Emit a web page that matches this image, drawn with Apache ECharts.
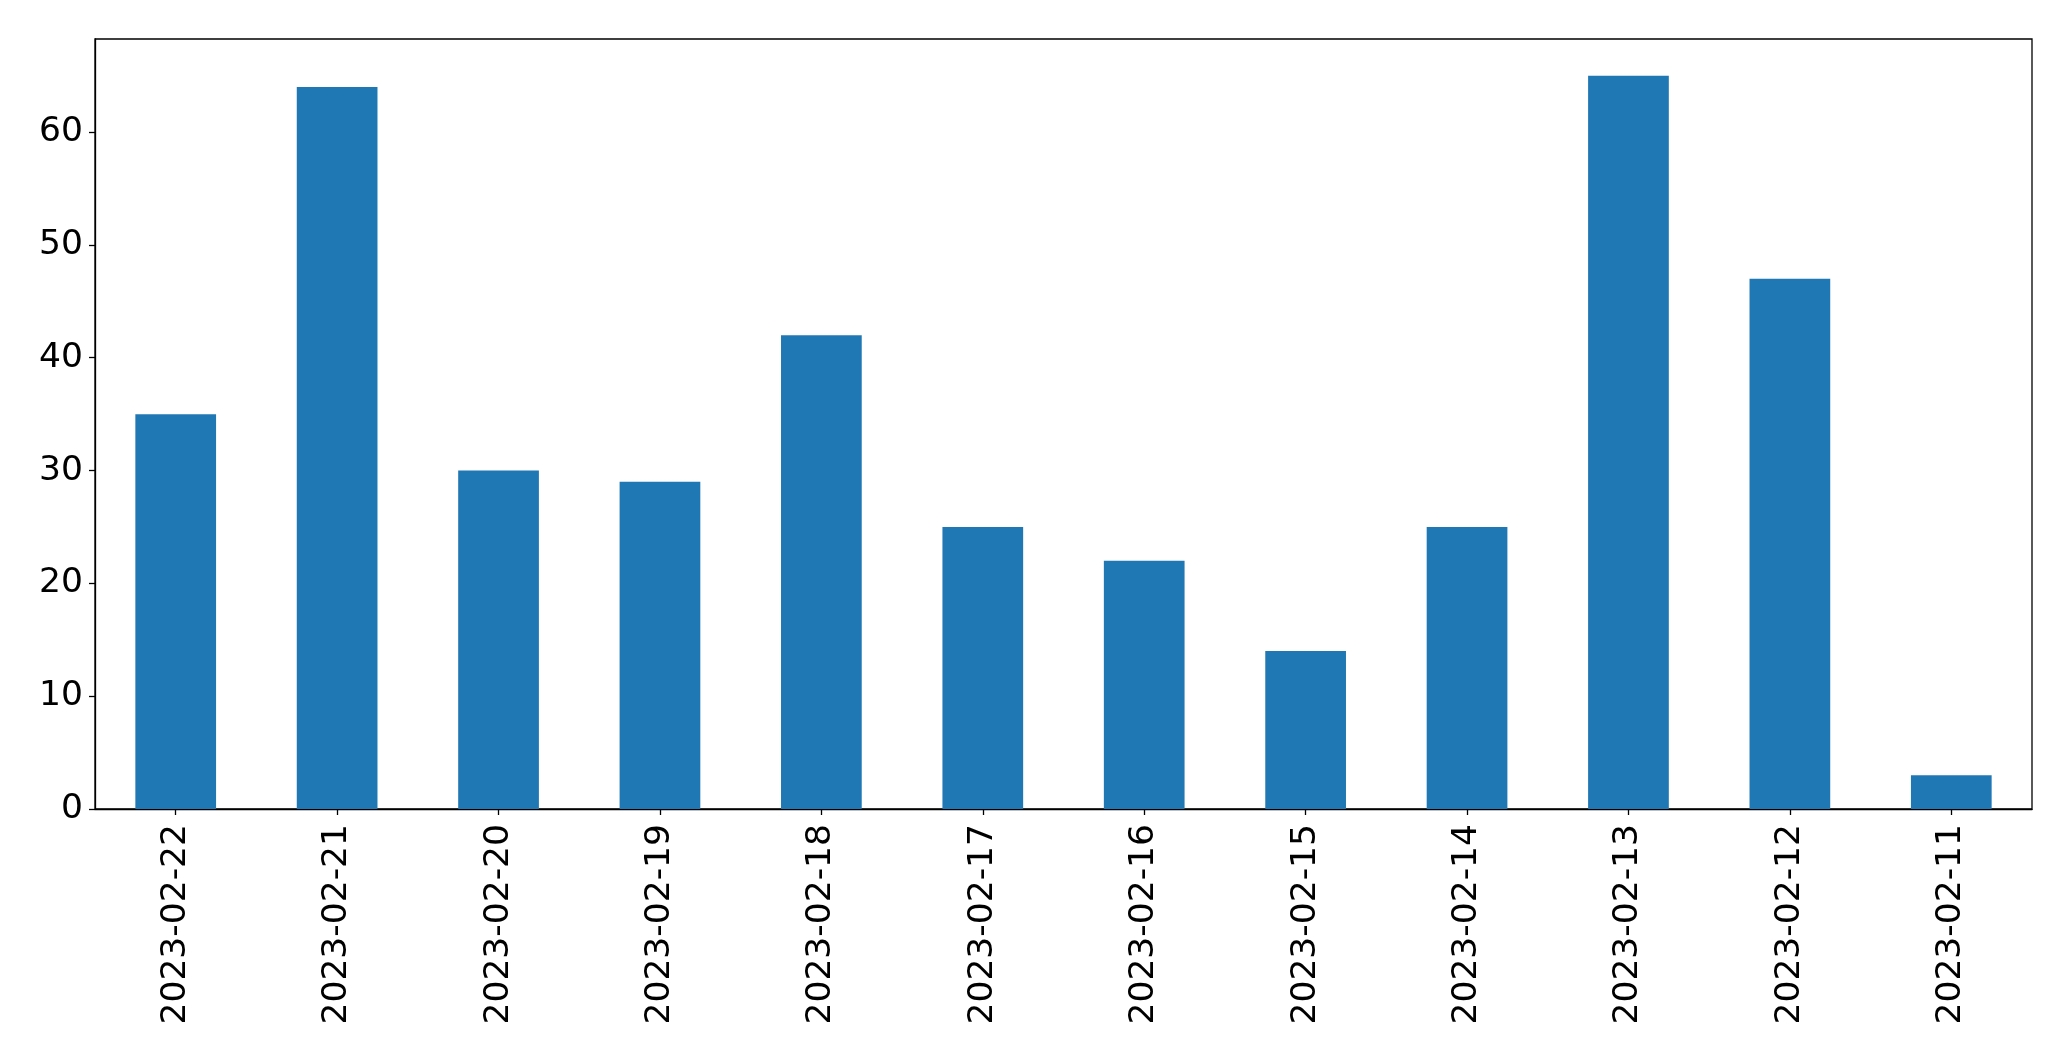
<!DOCTYPE html>
<html><head><meta charset="utf-8">
<script src="https://cdn.jsdelivr.net/npm/echarts@6/dist/echarts.min.js"></script>
<style>html,body{margin:0;padding:0;background:#fff}#c{width:2071px;height:1061px}</style>
</head><body><div id="c"></div>
<script>
const categories = ["2023-02-22","2023-02-21","2023-02-20","2023-02-19","2023-02-18","2023-02-17","2023-02-16","2023-02-15","2023-02-14","2023-02-13","2023-02-12","2023-02-11"];
const values = [35, 64, 30, 29, 42, 25, 22, 14, 25, 65, 47, 3];
const yTicks = [0, 10, 20, 30, 40, 50, 60];
const font = 'DejaVu Sans';
const chart = echarts.init(document.getElementById('c'), null, {renderer: 'canvas'});
chart.setOption({
  animation: false,
  backgroundColor: '#fff',
  grid: {left: 95, right: 39, top: 39, bottom: 252, show: true, borderColor: '#000', borderWidth: 1.3, backgroundColor: 'transparent'},
  xAxis: {
    type: 'category', data: categories,
    axisLine: {show: true, lineStyle: {color: '#000', width: 1.3}},
    axisTick: {show: true, alignWithLabel: true, length: 6, lineStyle: {color: '#000', width: 1.3}},
    axisLabel: {rotate: 90, fontSize: 34.5, fontFamily: font, color: '#000', margin: 15, interval: 0}
  },
  yAxis: {
    type: 'value', min: 0, max: 68.25, interval: 10,
    splitLine: {show: false},
    axisLine: {show: true, lineStyle: {color: '#000', width: 1.3}},
    axisTick: {show: true, length: 6, customValues: yTicks, lineStyle: {color: '#000', width: 1.3}},
    axisLabel: {fontSize: 34.5, fontFamily: font, color: '#000', margin: 12, customValues: yTicks}
  },
  series: [{type: 'bar', data: values, barWidth: '50%', itemStyle: {color: '#1f77b4'}}]
});
</script></body></html>
